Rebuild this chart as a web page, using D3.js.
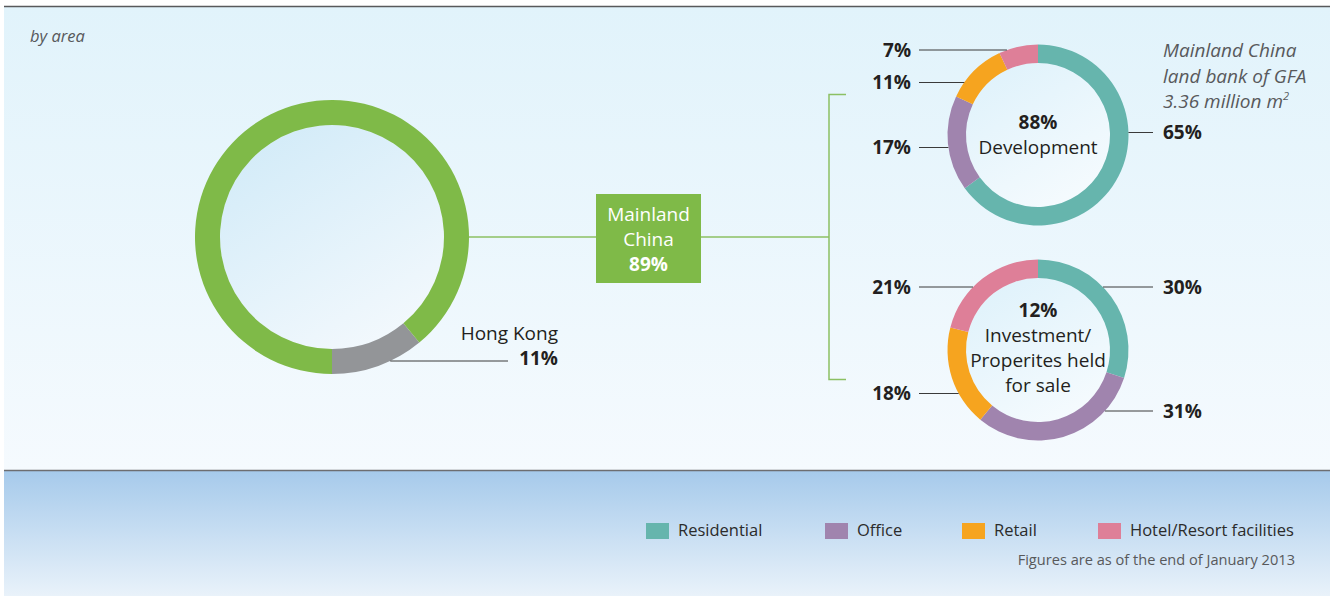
<!DOCTYPE html>
<html>
<head>
<meta charset="utf-8">
<script src="https://cdn.jsdelivr.net/npm/d3@7"></script>
<style>
  html, body { margin: 0; padding: 0; background: #ffffff; }
  svg { display: block; font-family: "Open Sans", "Noto Sans", sans-serif; }
</style>
</head>
<body>
<svg id="chart" width="1334" height="596"></svg>
<script>
// ---------------- data ----------------
const regionNames = ["Hong Kong", "Mainland China"];
const regionShare = [11, 89];
const categories = ["Residential", "Office", "Retail", "Hotel/Resort facilities"];
const categoryColors = ["#66b5ad", "#a084ae", "#f6a41f", "#de7f98"];
const segmentShare = [88, 12];
const developmentLabel = ["Development"];
const investmentLabel = ["Investment/", "Properites held", "for sale"];
const developmentShare = [65, 17, 11, 7];
const investmentShare = [30, 31, 18, 21];
const subtitle = "by area";
const noteLines = ["Mainland China", "land bank of GFA", "3.36 million m"];
const footnote = "Figures are as of the end of January 2013";

// ---------------- layout ----------------
const svg = d3.select("#chart");
const defs = svg.append("defs");

function vGrad(id, c1, c2, x1 = 0, y1 = 0, x2 = 0, y2 = 1) {
  const g = defs.append("linearGradient").attr("id", id)
    .attr("x1", x1).attr("y1", y1).attr("x2", x2).attr("y2", y2);
  g.append("stop").attr("offset", "0%").attr("stop-color", c1);
  g.append("stop").attr("offset", "100%").attr("stop-color", c2);
}
vGrad("panelGrad", "#e1f3fb", "#f5fafe");
vGrad("bandGrad", "#a6caeb", "#e9f2fa");
vGrad("holeGrad", "#d2ebf8", "#f4f9fd", 0.2, 0, 0.8, 1);
vGrad("holeGradS", "#dff2fb", "#f6fbfe", 0.2, 0, 0.8, 1);

// backgrounds
svg.append("rect").attr("x", 4).attr("y", 7).attr("width", 1326).attr("height", 463)
  .attr("fill", "url(#panelGrad)");
svg.append("rect").attr("x", 4).attr("y", 471).attr("width", 1326).attr("height", 125)
  .attr("fill", "url(#bandGrad)");
svg.append("line").attr("x1", 4).attr("x2", 1330).attr("y1", 6.5).attr("y2", 6.5)
  .attr("stroke", "#58595b").attr("stroke-width", 1.5);
svg.append("line").attr("x1", 4).attr("x2", 1330).attr("y1", 470.5).attr("y2", 470.5)
  .attr("stroke", "#6d6e71").attr("stroke-width", 1.6);

svg.append("text").attr("x", 30).attr("y", 42).text(subtitle)
  .attr("font-size", 16.5).attr("font-style", "italic").attr("fill", "#58595b");

const textColor = "#231f20";
const leaderColor = "#3a3a3a";
const green = "#7fba48";

// ---------------- big donut ----------------
const big = { cx: 332, cy: 237, rIn: 112, rOut: 137 };
const hkAngle = 2 * Math.PI * regionShare[0] / d3.sum(regionShare);
const bigPie = d3.pie().sort(null)
  .startAngle(Math.PI - hkAngle)
  .endAngle(3 * Math.PI - hkAngle);
const bigArc = d3.arc().innerRadius(big.rIn).outerRadius(big.rOut);
const gBig = svg.append("g").attr("transform", `translate(${big.cx},${big.cy})`);
gBig.append("circle").attr("r", big.rIn).attr("fill", "url(#holeGrad)");
gBig.selectAll("path").data(bigPie(regionShare)).join("path")
  .attr("d", bigArc)
  .attr("fill", (d, i) => i === 0 ? "#939598" : green);

// connectors
const box = { x: 596, y: 194, w: 105, h: 89 };
const lineGreen = "#8cc063";
svg.append("line").attr("x1", big.cx + big.rOut).attr("x2", box.x)
  .attr("y1", big.cy).attr("y2", big.cy).attr("stroke", lineGreen).attr("stroke-width", 1.5);
const bracketX = 829;
svg.append("line").attr("x1", box.x + box.w).attr("x2", bracketX)
  .attr("y1", big.cy).attr("y2", big.cy).attr("stroke", lineGreen).attr("stroke-width", 1.5);
svg.append("path")
  .attr("d", `M${bracketX + 17},94.5 H${bracketX} V379.5 H${bracketX + 17}`)
  .attr("fill", "none").attr("stroke", lineGreen).attr("stroke-width", 1.5);

// Mainland box
svg.append("rect").attr("x", box.x).attr("y", box.y).attr("width", box.w).attr("height", box.h)
  .attr("fill", green);
const boxText = svg.append("text").attr("text-anchor", "middle").attr("fill", "#ffffff")
  .attr("font-size", 19);
const mainlandWords = regionNames[1].split(" ");
boxText.append("tspan").attr("x", box.x + box.w / 2).attr("y", 221).text(mainlandWords[0]);
boxText.append("tspan").attr("x", box.x + box.w / 2).attr("y", 246).text(mainlandWords[1]);
boxText.append("tspan").attr("x", box.x + box.w / 2).attr("y", 271).attr("font-weight", "bold")
  .text(regionShare[1] + "%");

// Hong Kong label
const hkLineY = 361;
const hkEdge = Math.sqrt(big.rOut * big.rOut - (hkLineY - big.cy) ** 2);
svg.append("line").attr("x1", big.cx + hkEdge).attr("x2", 508)
  .attr("y1", hkLineY).attr("y2", hkLineY).attr("stroke", leaderColor).attr("stroke-width", 1);
svg.append("text").attr("x", 558).attr("y", 340).attr("text-anchor", "end")
  .attr("font-size", 19).attr("fill", textColor).text(regionNames[0]);
svg.append("text").attr("x", 558).attr("y", 365).attr("text-anchor", "end")
  .attr("font-size", 19).attr("font-weight", "bold").attr("fill", textColor)
  .text(regionShare[0] + "%");

// ---------------- small donuts ----------------
const rOutS = 90.5, rInS = 72;
const smallArc = d3.arc().innerRadius(rInS).outerRadius(rOutS);
const smallPie = d3.pie().sort(null);

function smallDonut(cx, cy, values, labelLayout, centerLines, firstY) {
  const g = svg.append("g").attr("transform", `translate(${cx},${cy})`);
  g.append("circle").attr("r", rInS).attr("fill", "url(#holeGradS)");
  g.selectAll("path").data(smallPie(values)).join("path")
    .attr("d", smallArc).attr("fill", (d, i) => categoryColors[i]);

  values.forEach((v, i) => {
    const L = labelLayout[i];
    const dy = L.dy;
    const edge = Math.sqrt(rOutS * rOutS - dy * dy);
    const left = L.side === "left";
    g.append("line").attr("x1", left ? -edge : edge).attr("x2", left ? -119 : 115)
      .attr("y1", dy).attr("y2", dy)
      .attr("stroke", leaderColor).attr("stroke-width", 1);
    g.append("text")
      .attr("x", left ? -127 : 125)
      .attr("y", dy + 6.5)
      .attr("text-anchor", left ? "end" : "start")
      .attr("font-size", 19).attr("font-weight", "bold").attr("fill", textColor)
      .text(v + "%");
  });

  const t = g.append("text").attr("text-anchor", "middle").attr("fill", textColor).attr("font-size", 19);
  centerLines.forEach((txt, k) => {
    t.append("tspan").attr("x", 0).attr("y", firstY + 25 * k)
      .attr("font-weight", k === 0 ? "bold" : "normal")
      .text(txt);
  });
}

smallDonut(1038, 135, developmentShare,
  [{ side: "right", dy: -2.5 }, { side: "left", dy: 12.5 }, { side: "left", dy: -52.5 }, { side: "left", dy: -85 }],
  [segmentShare[0] + "%", ...developmentLabel], -6);

smallDonut(1038, 350, investmentShare,
  [{ side: "right", dy: -63 }, { side: "right", dy: 61 }, { side: "left", dy: 43.5 }, { side: "left", dy: -63 }],
  [segmentShare[1] + "%", ...investmentLabel], -33);

// note
const note = svg.append("text").attr("font-size", 19).attr("font-style", "italic")
  .attr("fill", "#58595b");
note.append("tspan").attr("x", 1163).attr("y", 57).text(noteLines[0]);
note.append("tspan").attr("x", 1163).attr("y", 83).text(noteLines[1]);
note.append("tspan").attr("x", 1163).attr("y", 108).text(noteLines[2]);
note.append("tspan").attr("dy", -8).attr("font-size", 11).text("2");

// ---------------- legend ----------------
const legendX = [646, 825, 962, 1098];
const leg = svg.append("g");
categories.forEach((c, i) => {
  leg.append("rect").attr("x", legendX[i]).attr("y", 523).attr("width", 23).attr("height", 16)
    .attr("fill", categoryColors[i]);
  leg.append("text").attr("x", legendX[i] + 32).attr("y", 536)
    .attr("font-size", 16.5).attr("fill", "#2b2b2b").text(c);
});
svg.append("text").attr("x", 1295).attr("y", 565).attr("text-anchor", "end")
  .attr("font-size", 14.6).attr("fill", "#58595b").text(footnote);
</script>
</body>
</html>
